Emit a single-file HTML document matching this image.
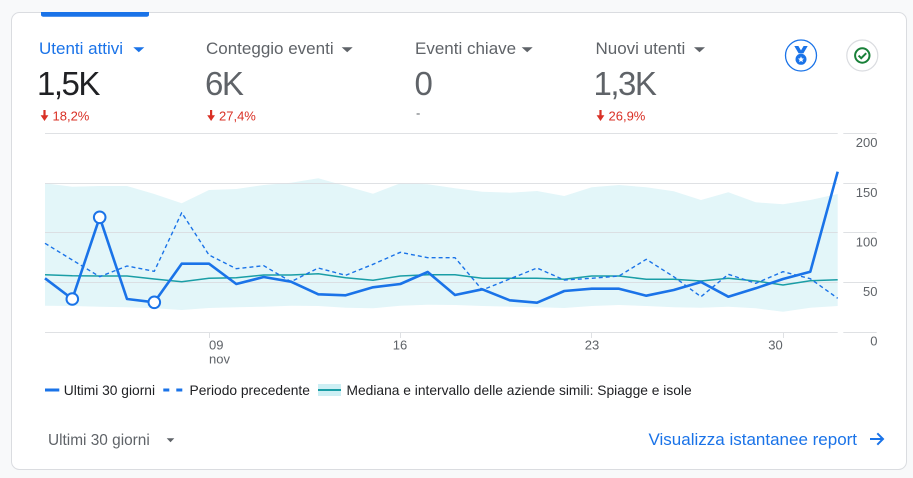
<!DOCTYPE html>
<html>
<head>
<meta charset="utf-8">
<style>
  html,body{margin:0;padding:0;background:#f8f9fa;}
  svg{display:block;font-family:"Liberation Sans",Arial,sans-serif;}
</style>
</head>
<body>
<svg width="913" height="478" viewBox="0 0 913 478" xmlns="http://www.w3.org/2000/svg">
  <rect x="0" y="0" width="913" height="478" fill="#f8f9fa"/>
  <!-- card -->
  <rect x="11.5" y="12.5" width="895" height="457" rx="8" ry="8" fill="#ffffff" stroke="#dadce0" stroke-width="1"/>
  <!-- selected tab bar -->
  <path d="M41,12 H149 V14.5 Q149,16.7 146.8,16.7 H43.2 Q41,16.7 41,14.5 Z" fill="#1a73e8"/>

  <!-- metric headers -->
  <text x="39" y="54" font-size="17" fill="#1a73e8">Utenti attivi</text>
  <polygon points="133.3,47.3 144.3,47.3 138.8,52.3" fill="#1a73e8"/>
  <text x="206" y="54" font-size="17" fill="#5f6368">Conteggio eventi</text>
  <polygon points="341.7,47.3 352.7,47.3 347.2,52.3" fill="#5f6368"/>
  <text x="415" y="54" font-size="17" fill="#5f6368">Eventi chiave</text>
  <polygon points="521.7,47.3 532.7,47.3 527.2,52.3" fill="#5f6368"/>
  <text x="595.5" y="54" font-size="17" fill="#5f6368">Nuovi utenti</text>
  <polygon points="694,47.3 705,47.3 699.5,52.3" fill="#5f6368"/>

  <!-- big values -->
  <text x="37" y="95" font-size="33" letter-spacing="-1.5" fill="#202124">1,5K</text>
  <text x="205" y="95" font-size="33" letter-spacing="-1.5" fill="#5f6368">6K</text>
  <text x="414.5" y="95" font-size="33" fill="#5f6368">0</text>
  <text x="593.5" y="95" font-size="33" letter-spacing="-1.5" fill="#5f6368">1,3K</text>

  <!-- changes -->
  <g fill="#d93025">
    <rect x="43.4" y="110" width="2.2" height="6.5"/>
    <polygon points="40.6,115.3 48.4,115.3 44.5,121"/>
    <rect x="210" y="110" width="2.2" height="6.5"/>
    <polygon points="207.2,115.3 215,115.3 211.1,121"/>
    <rect x="599.4" y="110" width="2.2" height="6.5"/>
    <polygon points="596.6,115.3 604.4,115.3 600.5,121"/>
  </g>
  <text x="52.5" y="120.7" font-size="13" fill="#d93025">18,2%</text>
  <text x="219" y="120.7" font-size="13" fill="#d93025">27,4%</text>
  <text x="608.5" y="120.7" font-size="13" fill="#d93025">26,9%</text>
  <text x="416" y="117.5" font-size="13" fill="#5f6368">-</text>

  <!-- icons -->
  <circle cx="801" cy="55.5" r="15.5" fill="#ffffff" stroke="#1a73e8" stroke-width="1.3"/>
  <g fill="#1a73e8">
    <path d="M794.3,46 H798.4 L801,50.4 L803.6,46 H807.7 L803.4,53.4 H798.6 Z"/>
    <circle cx="801" cy="59.3" r="5.5"/>
  </g>
  <polygon points="801,56.4 801.9,58.4 804,58.6 802.4,60 802.9,62.1 801,61 799.1,62.1 799.6,60 798,58.6 800.1,58.4" fill="#ffffff"/>
  <circle cx="862.3" cy="55.5" r="15.5" fill="#ffffff" stroke="#dadce0" stroke-width="1.2"/>
  <circle cx="862.3" cy="55.5" r="7.2" fill="none" stroke="#188038" stroke-width="2"/>
  <path d="M858.6,55.6 L861.2,58.2 L866.2,53.2" fill="none" stroke="#188038" stroke-width="2"/>

  <!-- band -->
  <polygon fill="#e3f6f9" points="45,183.3 72.3,186.7 99.7,186 127,186 154.3,194 181.7,203.3 209,190 236.3,189 263.7,185 291,182.7 318.3,178.3 345.7,186 373,193.7 400.3,183.3 427.7,184.3 455,188.3 482.3,191.7 509.7,192.7 537,191 564.3,196 591.7,187.3 619,185 646.3,187.3 673.7,191.3 701,200 728.3,192.3 755.7,202.3 783,204.3 810.3,200 837.7,194 837.7,306 810.3,307.7 783,311.7 755.7,308.3 728.3,306.7 701,307.7 673.7,307.3 646.3,306 619,305 591.7,306 564.3,308 537,307.3 509.7,306.7 482.3,306 455,305 427.7,304.7 400.3,305.7 373,308.3 345.7,307.7 318.3,306 291,305.7 263.7,306.7 236.3,307.3 209,308 181.7,310 154.3,308.3 127,307.3 99.7,306.7 72.3,306 45,305.7"/>

  <!-- gridlines -->
  <g stroke="#dadce0" stroke-width="1" opacity="0.85">
    <line x1="45" y1="133.5" x2="837.7" y2="133.5"/>
    <line x1="45" y1="183.5" x2="837.7" y2="183.5"/>
    <line x1="45" y1="232.5" x2="837.7" y2="232.5"/>
    <line x1="45" y1="282.5" x2="837.7" y2="282.5"/>
    <line x1="45" y1="332.5" x2="837.7" y2="332.5"/>
    <line x1="843.3" y1="133.5" x2="876.7" y2="133.5"/>
    <line x1="843.3" y1="183.5" x2="876.7" y2="183.5"/>
    <line x1="843.3" y1="232.5" x2="876.7" y2="232.5"/>
    <line x1="843.3" y1="282.5" x2="876.7" y2="282.5"/>
    <line x1="843.3" y1="332.5" x2="876.7" y2="332.5"/>
    <line x1="209.5" y1="332" x2="209.5" y2="338"/>
    <line x1="400.5" y1="332" x2="400.5" y2="338"/>
    <line x1="591.5" y1="332" x2="591.5" y2="338"/>
    <line x1="783.5" y1="332" x2="783.5" y2="338"/>
  </g>

  <!-- median -->
  <polyline fill="none" stroke="#1a9ea6" stroke-width="1.5" stroke-linejoin="round" points="45,274.7 72.3,275.7 99.7,276 127,276 154.3,279 181.7,281.7 209,278.3 236.3,277.7 263.7,275 291,275 318.3,273.7 345.7,277.7 373,280.3 400.3,276 427.7,274.7 455,274.7 482.3,278.3 509.7,278.3 537,278.3 564.3,279.3 591.7,276 619,276 646.3,279.3 673.7,279.3 701,281 728.3,278.3 755.7,281 783,285 810.3,280.7 837.7,279.7"/>

  <!-- previous period dashed -->
  <polyline fill="none" stroke="#1a73e8" stroke-width="1.4" stroke-dasharray="4 3" stroke-linejoin="round" points="45,243.3 72.3,260 99.7,276.7 127,266 154.3,271.3 181.7,212.7 209,255 236.3,268.7 263.7,265.7 291,281.7 318.3,268 345.7,275.3 373,264.3 400.3,252.3 427.7,257.7 455,257.7 482.3,290 509.7,279 537,268 564.3,280 591.7,278.3 619,276 646.3,259.3 673.7,276.7 701,296.7 728.3,274.3 755.7,283.3 783,271.7 810.3,278.7 837.7,298.3"/>

  <!-- main series -->
  <polyline fill="none" stroke="#1a73e8" stroke-width="2.6" stroke-linejoin="round" points="45,278.3 72.3,299 99.7,217.3 127,299 154.3,302.3 181.7,263.7 209,263.7 236.3,284 263.7,277 291,281.7 318.3,294.3 345.7,295.3 373,287.3 400.3,284 427.7,272 455,295 482.3,289.3 509.7,300.3 537,302.7 564.3,291 591.7,288.7 619,288.7 646.3,295.7 673.7,290 701,282 728.3,296.7 755.7,288.3 783,279 810.3,271.7 837.7,171.7"/>
  <g fill="#ffffff" stroke="#1a73e8" stroke-width="2">
    <circle cx="72.3" cy="299" r="5.8"/>
    <circle cx="99.7" cy="217.3" r="5.8"/>
    <circle cx="154.3" cy="302.3" r="5.8"/>
  </g>

  <!-- y-axis labels -->
  <g font-size="13" fill="#5f6368" text-anchor="end">
    <text x="877.5" y="147">200</text>
    <text x="877.5" y="197">150</text>
    <text x="877.5" y="246.4">100</text>
    <text x="877.5" y="296">50</text>
    <text x="877.5" y="345.7">0</text>
  </g>
  <!-- x-axis labels -->
  <g font-size="13" fill="#5f6368">
    <text x="209" y="349.7">09</text>
    <text x="209" y="363.5">nov</text>
    <text x="400" y="349.7" text-anchor="middle">16</text>
    <text x="592" y="349.7" text-anchor="middle">23</text>
    <text x="775.5" y="349.7" text-anchor="middle">30</text>
  </g>

  <!-- legend -->
  <line x1="45" y1="390" x2="59.3" y2="390" stroke="#1a73e8" stroke-width="3"/>
  <text x="63.8" y="395" font-size="13.8" fill="#202124">Ultimi 30 giorni</text>
  <line x1="163.3" y1="390" x2="183" y2="390" stroke="#1a73e8" stroke-width="3" stroke-dasharray="6 7"/>
  <text x="189.5" y="395" font-size="13.8" fill="#202124">Periodo precedente</text>
  <rect x="318" y="384" width="23" height="12" fill="#cdeff4"/>
  <line x1="318" y1="390" x2="341" y2="390" stroke="#1a9ea6" stroke-width="2"/>
  <text x="346.5" y="395" font-size="13.8" fill="#202124">Mediana e intervallo delle aziende simili: Spiagge e isole</text>

  <!-- footer -->
  <text x="48" y="445" font-size="15.4" fill="#5f6368">Ultimi 30 giorni</text>
  <polygon points="166.7,438.3 174.3,438.3 170.5,442.3" fill="#5f6368"/>
  <text x="648.5" y="445" font-size="17" fill="#1a73e8">Visualizza istantanee report</text>
  <path d="M870,439 H883 M877.3,433.3 L883,439 L877.3,444.7" fill="none" stroke="#1a73e8" stroke-width="2"/>
</svg>
</body>
</html>
